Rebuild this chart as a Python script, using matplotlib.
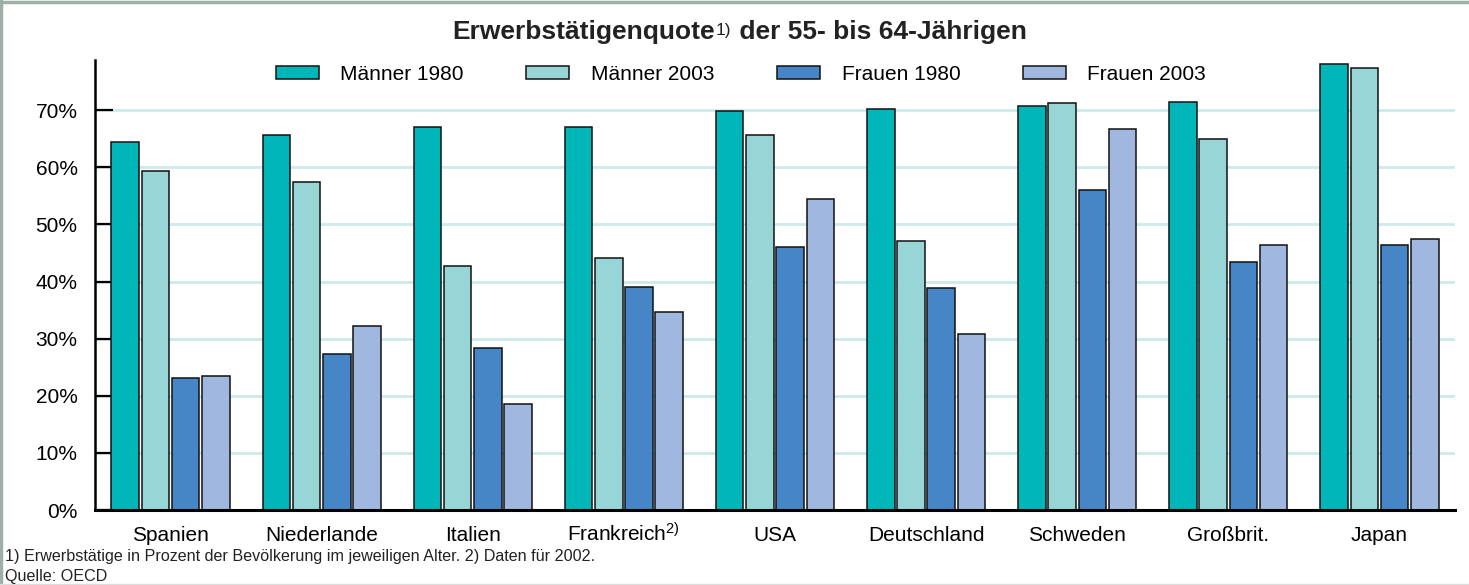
import numpy as np
import matplotlib
matplotlib.use("Agg")
import matplotlib.pyplot as plt
import matplotlib.transforms as mtransforms
from matplotlib.lines import Line2D

plt.rcParams['font.family'] = ['Liberation Sans', 'DejaVu Sans']
plt.rcParams['mathtext.fontset'] = 'custom'
plt.rcParams['mathtext.rm'] = 'Liberation Sans'
plt.rcParams['mathtext.default'] = 'regular'

countries = ["Spanien", "Niederlande", "Italien", r"Frankreich$^{2)}$", "USA",
             "Deutschland", "Schweden", "Großbrit.", "Japan"]
series = ["Männer 1980", "Männer 2003", "Frauen 1980", "Frauen 2003"]
maenner_1980 = [64.4, 65.7, 67.1, 67.1, 69.9, 70.2, 70.8, 71.5, 78.1]
maenner_2003 = [59.3, 57.4, 42.7, 44.1, 65.6, 47.1, 71.2, 65.0, 77.4]
frauen_1980 = [23.2, 27.3, 28.4, 39.1, 46.1, 38.9, 56.1, 43.5, 46.4]
frauen_2003 = [23.4, 32.2, 18.5, 34.6, 54.5, 30.8, 66.8, 46.4, 47.5]
yticks = [0, 10, 20, 30, 40, 50, 60, 70]

colors = ["#00B6B9", "#97D5D6", "#4786C6", "#A0B8E0"]

fig = plt.figure(figsize=(14.69, 5.85), dpi=100)
ax = fig.add_axes([95 / 1469, 75 / 585, (1455 - 95) / 1469, 450 / 585])

x = np.arange(len(countries))
values = [maenner_1980, maenner_2003, frauen_1980, frauen_2003]
offsets = [-0.3, -0.1, 0.1, 0.3]
for vals, off, col, name in zip(values, offsets, colors, series):
    ax.bar(x + off, vals, width=0.183, color=col, edgecolor="#111111",
           linewidth=1.1, label=name, zorder=3)

ax.set_xlim(-0.5, 8.5)
ax.set_ylim(0, 78.8)
ax.set_yticks(yticks)
ax.set_yticklabels([f"{t}%" for t in yticks], fontsize=15)
ax.set_xticks([])
ax.tick_params(axis="y", direction="in", length=13, width=1.6, pad=12.5, color="black")

# category labels on a common baseline (superscript on Frankreich)
trans = mtransforms.blended_transform_factory(ax.transData, ax.transAxes)
for xi, name in zip(x, countries):
    ax.text(xi, -0.069, name, transform=trans, fontsize=15, ha="center",
            va="baseline", clip_on=False)

for t in yticks[1:]:
    ax.axhline(t, color="#CDE9EA", linewidth=2, zorder=1)

for s in ["top", "right"]:
    ax.spines[s].set_visible(False)
ax.spines["left"].set_linewidth(1.8)
ax.spines["bottom"].set_linewidth(2.2)
ax.spines["left"].set_zorder(4)
ax.spines["bottom"].set_zorder(4)

leg = ax.legend(loc="center", bbox_to_anchor=(741 / 1469, 1 - 74 / 585),
                bbox_transform=fig.transFigure, ncol=4, frameon=False,
                fontsize=15, handlelength=2.05, handleheight=0.6,
                handletextpad=1.05, columnspacing=3.0)

# title with non-bold superscript
t1 = fig.text(452 / 1469, 1 - 32 / 585, "Erwerbstätigenquote", fontsize=19,
              fontweight="bold", ha="left", va="center", color="#222222")
t2 = ax.annotate("1)", xy=(1, 1), xycoords=t1, xytext=(1, -2),
                 textcoords="offset points", fontsize=12.5, ha="left", va="top",
                 color="#222222", annotation_clip=False)
ax.annotate(" der 55- bis 64-Jährigen", xy=(1, 0), xycoords=(t2, t1),
            fontsize=19, fontweight="bold", ha="left", va="bottom",
            color="#222222", annotation_clip=False)

fig.text(5 / 1469, 1 - 557 / 585,
         "1) Erwerbstätige in Prozent der Bevölkerung im jeweiligen Alter. 2) Daten für 2002.",
         fontsize=11.6, ha="left", va="center", color="#222222")
fig.text(5 / 1469, 1 - 576 / 585, "Quelle: OECD", fontsize=11.6,
         ha="left", va="center", color="#222222")

# frame around the graphic
fig.add_artist(Line2D([0.001, 0.001], [0, 1], transform=fig.transFigure,
                      color="#9DB0A6", linewidth=2.5))
fig.add_artist(Line2D([0, 1], [0.997, 0.997], transform=fig.transFigure,
                      color="#9DB0A6", linewidth=2.5))
fig.add_artist(Line2D([0, 1], [0.001, 0.001], transform=fig.transFigure,
                      color="#DDDDDD", linewidth=1))

fig.savefig("out.png", dpi=100)
